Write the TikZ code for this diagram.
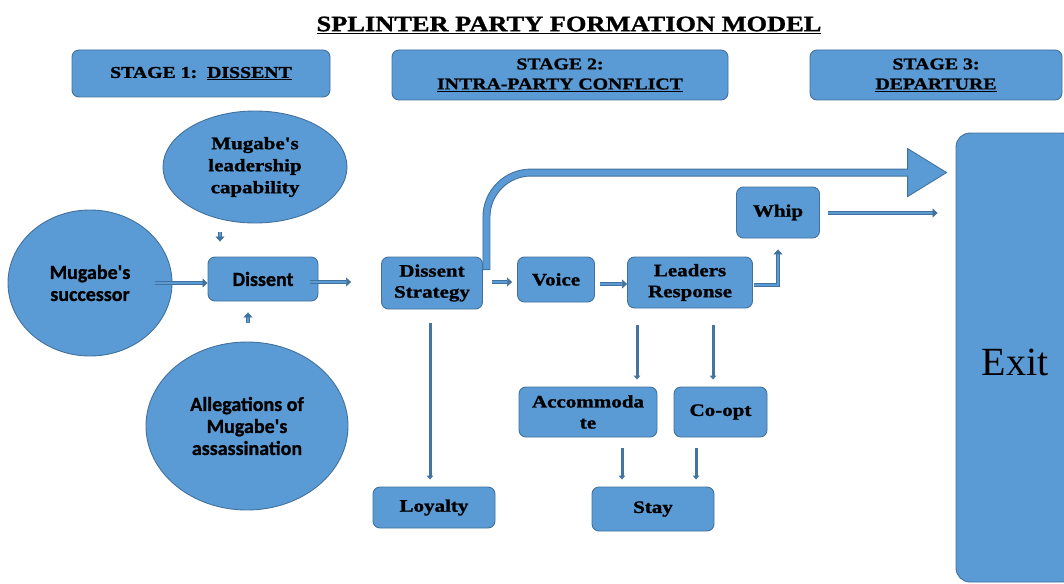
\documentclass[tikz,border=0pt]{standalone}
\usepackage{fontspec}
\setmainfont{Liberation Serif}
\newfontfamily\calb[BoldFeatures={FakeBold=1}]{Carlito}
\newfontfamily\widefont[FakeStretch=1.2, BoldFeatures={FakeBold=1.2}]{Liberation Serif}
\usetikzlibrary{arrows.meta,shapes.geometric,calc}
\definecolor{boxfill}{HTML}{5B9BD5}
\definecolor{boxedge}{HTML}{41719C}
\tikzset{
  rbox/.style={draw=boxedge, fill=boxfill, line width=0.9pt, rounded corners=7pt,
    align=center, inner sep=0pt, font=\widefont\fontsize{17.5}{21}\selectfont\bfseries},
  ell/.style={ellipse, draw=boxedge, fill=boxfill, line width=0.9pt, inner sep=0pt, align=center},
  blk/.style={draw=boxedge, line width=0.6pt, double=boxfill, double distance=2.4pt,
    -{Triangle[length=5pt,width=9pt]}},
  thin/.style={draw=boxedge!90!boxfill, line width=3pt, -{Triangle[length=4pt,width=6.5pt]}},
}
\begin{document}
\begin{tikzpicture}[x=1pt,y=-1pt]
\useasboundingbox (0,0) rectangle (1064,583);
% title
\node (title) at (569,25) {\widefont\fontsize{22}{24}\selectfont\bfseries\underline{SPLINTER PARTY FORMATION MODEL}};
% stages
\node[rbox, minimum width=258, minimum height=47, font=\widefont\fontsize{16.5}{20}\selectfont\bfseries] (st1) at (201,73.5) {STAGE 1:\ \ \underline{DISSENT}};
\node[rbox, minimum width=336, minimum height=50, font=\widefont\fontsize{16.5}{20}\selectfont\bfseries] (st2) at (560,75) {STAGE 2:\\\underline{INTRA-PARTY CONFLICT}};
\node[rbox, minimum width=252, minimum height=50, font=\widefont\fontsize{16.5}{20}\selectfont\bfseries] (st3) at (936,75) {STAGE 3:\\\underline{DEPARTURE}};
% ellipses
\node[ell, minimum width=184, minimum height=112, font=\widefont\fontsize{17.5}{22}\selectfont\bfseries] (lead) at (255,167) {Mugabe's\\leadership\\capability};
\node[ell, minimum width=164, minimum height=146, font=\calb\fontsize{20}{22}\selectfont\bfseries] (succ) at (90,283) {Mugabe's\\successor};
\node[ell, minimum width=202, minimum height=168, font=\calb\fontsize{20}{22}\selectfont\bfseries] (alleg) at (247,426) {Allegations of\\Mugabe's\\assassination};
% boxes
\node[rbox, minimum width=110, minimum height=44, font=\calb\fontsize{20}{22}\selectfont\bfseries] (dis) at (263,279) {Dissent};
\node[rbox, minimum width=101, minimum height=52] (ds) at (432,283) {Dissent\\Strategy};
\node[rbox, minimum width=77, minimum height=45] (voice) at (556,279.5) {Voice};
\node[rbox, minimum width=125, minimum height=51] (lr) at (690,282.5) {Leaders\\Response};
\node[rbox, minimum width=83, minimum height=51] (whip) at (778,212.5) {Whip};
\node[rbox, minimum width=122, minimum height=41] (loyal) at (434,507.5) {Loyalty};
\node[rbox, minimum width=138, minimum height=50] (acc) at (588,412) {Accommoda\\te};
\node[rbox, minimum width=93, minimum height=50] (coopt) at (720.5,412) {Co-opt};
\node[rbox, minimum width=122, minimum height=44] (stay) at (653,509) {Stay};
\node[rbox, minimum width=120, minimum height=449, rounded corners=14pt] (exit) at (1016,357.5) {};
\node (exittext) at (1015,362) {\fontsize{40}{44}\selectfont Exit};
% helper positions
\coordinate (xa) at (220,0);
\coordinate (xb) at (248,0);
\coordinate (xc) at (430,0);
\coordinate (xd) at (637,0);
\coordinate (xe) at (713,0);
\coordinate (xf) at (622,0);
\coordinate (xg) at (696,0);
\coordinate (yb) at (0,282);
\coordinate (yc) at (0,284);
\coordinate (yd) at (0,213);
\coordinate (ye) at (0,285);
% arrows
\draw[blk] ($(succ.center)+(65,0)$) -- (dis.west |- succ.center);
\draw[blk, shorten <=9, shorten >=15] (lead.south -| xa) -- (dis.north -| xa);
\draw[blk, shorten <=19, shorten >=11] (alleg.north -| xb) -- (dis.south -| xb);
\draw[blk, shorten >=30] ($(dis.east |- yb)+(-8,0)$) -- (ds.west |- yb);
\draw[blk, shorten <=9, shorten >=5] (ds.east |- yb) -- (voice.west |- yb);
\draw[blk, shorten <=5, shorten >=0] (voice.east |- yc) -- (lr.west |- yc);
\draw[blk, shorten >=11] ($(lr.east |- ye)+(1,0)$) -| (whip.south);
\draw[blk, shorten <=8, shorten >=18] (whip.east |- yd) -- (exit.west |- yd);
\draw[thin, shorten <=14, shorten >=7] (ds.south -| xc) -- (loyal.north -| xc);
\draw[thin, shorten <=17, shorten >=7] (lr.south -| xd) -- (acc.north -| xd);
\draw[thin, shorten <=17, shorten >=7] (lr.south -| xe) -- (coopt.north -| xe);
\draw[thin, shorten <=11, shorten >=7] (acc.south -| xf) -- (stay.north -| xf);
\draw[thin, shorten <=11, shorten >=7] (coopt.south -| xg) -- (stay.north -| xg);
% big curved arrow from Dissent Strategy to Exit
\coordinate (bs) at (ds.north east);
\coordinate (bt) at ($(exit.north west)+(-9,40)$);
\coordinate (bc) at (bs |- bt);
\draw[draw=boxedge, fill=boxfill, line width=0.9pt]
  ($(bs)+(0,13)$) -- ($(bc)+(0,44.5)$)
  .. controls ($(bc)+(0,18)$) and ($(bc)+(21.5,-3.5)$) .. ($(bc)+(48,-3.5)$)
  -- ($(bt)+(-39,-3.5)$) -- ($(bt)+(-39,-24)$) -- (bt) -- ($(bt)+(-39,24)$)
  -- ($(bt)+(-39,3.5)$) -- ($(bc)+(48,3.5)$)
  .. controls ($(bc)+(25.4,3.5)$) and ($(bc)+(7,21.9)$) .. ($(bc)+(7,44.5)$)
  -- ($(bs)+(7,13)$) -- cycle;
\end{tikzpicture}
\end{document}
